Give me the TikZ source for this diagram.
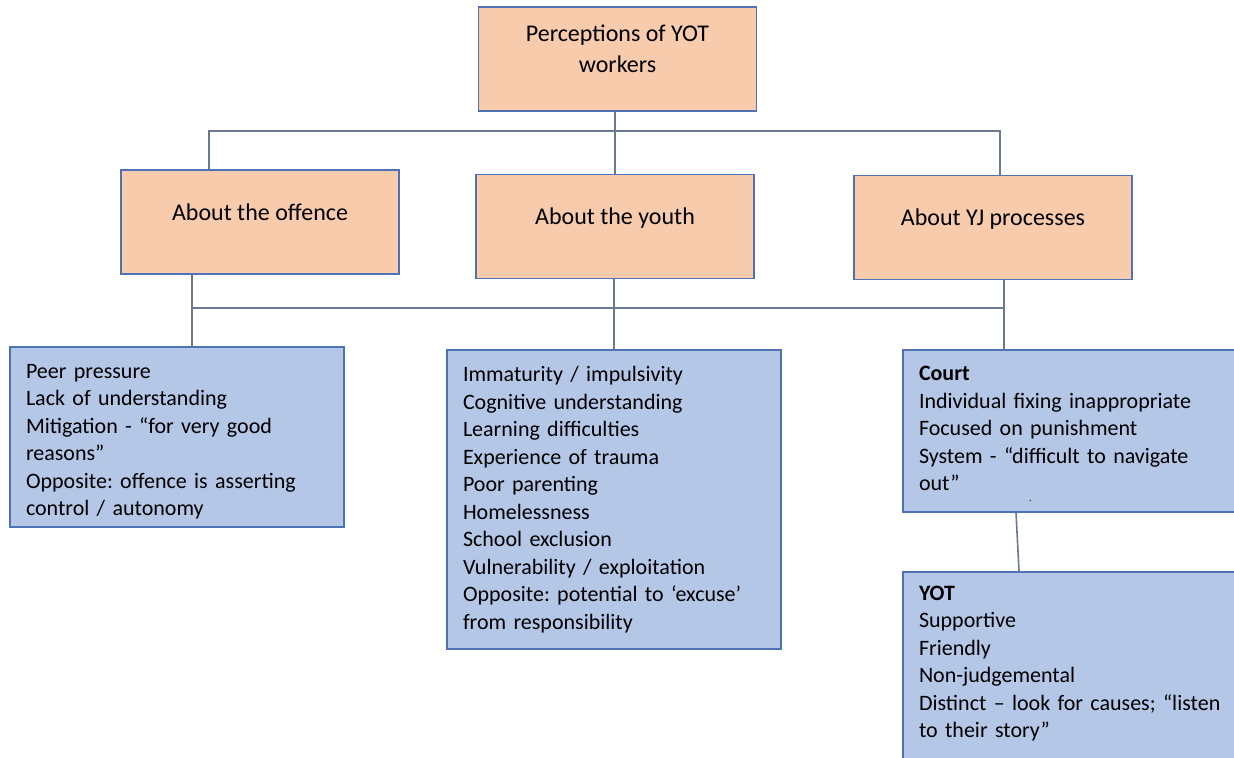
\documentclass[tikz,border=0pt]{standalone}
\usepackage{fontspec}
\setmainfont{Carlito}
\usepackage{xcolor}
\usepackage{tikz}
\frenchspacing

\definecolor{peach}{HTML}{F8CBAD}
\definecolor{paleblue}{HTML}{B4C7E7}
\definecolor{edgeblue}{HTML}{4F72B4}
\definecolor{linkgrey}{HTML}{6A7890}
\newcommand{\lowstrut}{\rule[-10pt]{0pt}{18pt}}

\begin{document}
\begin{tikzpicture}[x=0.5pt,y=-0.5pt,
  orangebox/.style={draw=edgeblue, line width=0.75pt, fill=peach, minimum width=139pt, minimum height=52pt, align=center, font=\fontsize{12}{15.5}\selectfont},
  bluebox/.style={draw=edgeblue, line width=0.75pt, fill=paleblue, text width=151pt, inner xsep=8pt, align=left, font=\fontsize{11}{13.75}\selectfont},
  link/.style={draw=linkgrey, line width=0.8pt}]
\useasboundingbox (0,0) rectangle (1234,757);
\clip (0,0) rectangle (1234,757);

% top and first level%
\node[orangebox] (root) at (617.5,59) {\rule{0pt}{8pt}Perceptions of YOT\\workers\lowstrut};
\node[orangebox] (offence) at (260,222) {About the offence\lowstrut};
\node[orangebox] (youth) at (615,226.5) {About the youth\lowstrut};
\node[orangebox] (yj) at (993,227.5) {About YJ processes\lowstrut};

% second level%
\node[bluebox, minimum height=90pt] (peer) at (177,437) {\rule{0pt}{11.7pt}Peer pressure\\Lack of understanding\\Mitigation - “for very good\\reasons”\\Opposite: offence is asserting\\control / autonomy};
\node[bluebox, minimum height=149.5pt] (traits) at (614,499.5) {Immaturity / impulsivity\\Cognitive understanding\\Learning difficulties\\Experience of trauma\\Poor parenting\\Homelessness\\School exclusion\\Vulnerability / exploitation\\Opposite: potential to ‘excuse’\\from responsibility};
\node[bluebox, minimum height=81pt] (court) at (1070,431) {\rule{0pt}{10.5pt}\textbf{Court}\\Individual fixing inappropriate\\Focused on punishment\\System - “difficult to navigate\\out”\\[-8.25pt]\hspace*{55pt}{\tiny .}};
\node[bluebox, anchor=north, minimum height=113.6pt] (yot) at (1070,571) {\textbf{YOT}\\Supportive\\Friendly\\Non-judgemental\\Distinct – look for causes; “listen\\to their story”\\[10pt]\mbox{}};

% connectors%
\coordinate (busA) at (209,131);
\coordinate (busB) at (1000,131);
\coordinate (busC) at (192,308);
\coordinate (busD) at (1004,308);
\coordinate (c1) at (1016,0);
\coordinate (c2) at (1019,0);
\draw[link] (youth.north |- root.south) -- (youth.north);
\draw[link] (busA |- offence.north) -- (busA) -- (busB) -- (busB |- yj.north);
\draw[link] (busC |- offence.south) -- (busC |- peer.north);
\draw[link] (busC) -- (busD);
\draw[link] (busD |- yj.south) -- (busD |- court.north);
\draw[link] (traits.north |- youth.south) -- (traits.north);
\draw[link] (court.south -| c1) -- (yot.north -| c2);

\end{tikzpicture}
\end{document}
